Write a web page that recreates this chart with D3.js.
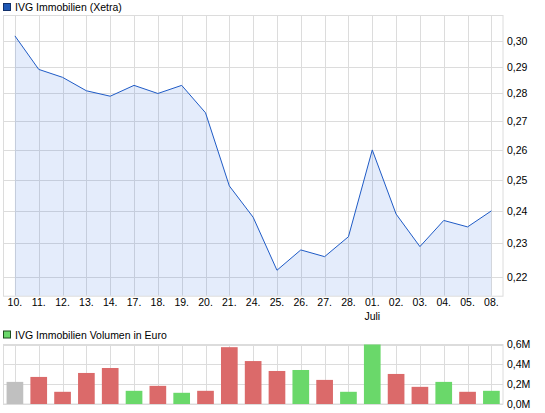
<!DOCTYPE html>
<html><head><meta charset="utf-8">
<script src="https://cdn.jsdelivr.net/npm/d3@7"></script>
<style>body{margin:0;background:#fff}svg{display:block}text{font-family:"Liberation Sans",Arial,sans-serif;fill:#000}</style>
</head><body>
<script>
const categories = ["10.","11.","12.","13.","14.","17.","18.","19.","20.","21.","24.","25.","26.","27.","28.","01.","02.","03.","04.","05.","08."];
const monthLabels = {"01.":"Juli"};
const prices = [0.302,0.289,0.286,0.281,0.279,0.283,0.280,0.283,0.273,0.248,0.238,0.222,0.228,0.226,0.232,0.260,0.239,0.229,0.237,0.235,0.240];
const volumes = [0.223,0.273,0.123,0.313,0.363,0.133,0.183,0.113,0.133,0.573,0.433,0.333,0.343,0.243,0.123,0.60,0.303,0.173,0.223,0.123,0.133].map(v=>v*1e6);
const priceTicks = [0.22,0.23,0.24,0.25,0.26,0.27,0.28,0.29,0.30];
const volTicks = [0,200000,400000,600000];
const priceTitle = "IVG Immobilien (Xetra)";
const volTitle = "IVG Immobilien Volumen in Euro";

const W=545,H=413;
const svg=d3.select("body").append("svg").attr("width",W).attr("height",H);
const grid="#dcdcdc";
const fs=10.5;

const x=d3.scaleBand().domain(categories).range([3,503.3]).padding(0);
const cx=d=>x(d)+x.bandwidth()/2;

// ---------- price panel
const pTop=15,pBot=295.7;
const y=d3.scaleLog().domain([0.2147,0.3104]).range([pBot,pTop]);
const gP=svg.append("g");
gP.append("rect").attr("x",3.5).attr("y",pTop+0.5).attr("width",499.5).attr("height",pBot-pTop).attr("fill","#fff").attr("stroke",grid);
gP.selectAll("line.v").data(categories).join("line").attr("x1",d=>Math.round(cx(d))+0.5).attr("x2",d=>Math.round(cx(d))+0.5).attr("y1",pTop).attr("y2",pBot).attr("stroke",grid);
gP.selectAll("line.h").data(priceTicks).join("line").attr("x1",3).attr("x2",503).attr("y1",d=>Math.round(y(d))+0.5).attr("y2",d=>Math.round(y(d))+0.5).attr("stroke",grid);
const pts=categories.map((c,i)=>[cx(c),prices[i]]);
gP.append("path").datum(pts).attr("d",d3.area().x(d=>d[0]).y0(pBot).y1(d=>y(d[1]))).attr("fill","#2f6ee0").attr("fill-opacity",0.13);
gP.append("path").datum(pts).attr("d",d3.line().x(d=>d[0]).y(d=>y(d[1]))).attr("fill","none").attr("stroke","#1f5bc6").attr("stroke-width",1);
const ay=d3.axisRight(y).tickValues(priceTicks).tickSize(0).tickPadding(0).tickFormat(d=>d3.format(".2f")(d).replace(".",","));
const gay=gP.append("g").attr("transform","translate(507,0)").call(ay);
gay.select(".domain").remove();
gay.selectAll("text").attr("font-size",fs).attr("font-family",null).attr("fill","#000");

// x labels
const ax=d3.axisBottom(x).tickSize(0).tickPadding(0);
const gax=svg.append("g").attr("transform","translate(0,299)").call(ax);
gax.select(".domain").remove();
gax.selectAll("text").attr("font-size",fs).attr("font-family",null).attr("fill","#000");
svg.selectAll("text.month").data(categories.filter(c=>monthLabels[c])).join("text").attr("class","month")
  .attr("x",d=>cx(d)).attr("y",320).attr("text-anchor","middle").attr("font-size",fs).text(d=>monthLabels[d]);

// legends
function legend(yy,color,border,label){
  svg.append("rect").attr("x",3.5).attr("y",yy+0.5).attr("width",7).attr("height",7).attr("fill",color).attr("stroke",border);
  svg.append("text").attr("x",15).attr("y",yy+8).attr("font-size",fs).text(label);
}
legend(3,"#1e58b5","#12306a",priceTitle);
legend(330.5,"#6ad86a","#1c4d1c",volTitle);

// ---------- volume panel
const vTop=344.5,vBot=404;
const yv=d3.scaleLinear().domain([0,600000]).range([vBot,vTop]);
const gV=svg.append("g");
gV.append("rect").attr("x",3.5).attr("y",vTop).attr("width",499.5).attr("height",vBot-vTop).attr("fill","#fff").attr("stroke",grid);
gV.selectAll("line.v").data(categories).join("line").attr("x1",d=>Math.round(cx(d))+0.5).attr("x2",d=>Math.round(cx(d))+0.5).attr("y1",vTop).attr("y2",vBot).attr("stroke",grid);
gV.selectAll("line.h").data(volTicks).join("line").attr("x1",3).attr("x2",503).attr("y1",d=>Math.round(yv(d))+0.5).attr("y2",d=>Math.round(yv(d))+0.5).attr("stroke",grid);
const bw=x.bandwidth()*0.7;
gV.selectAll("rect.bar").data(categories).join("rect").attr("class","bar")
  .attr("x",d=>cx(d)-bw/2).attr("width",bw)
  .attr("y",(d,i)=>yv(volumes[i])).attr("height",(d,i)=>vBot-yv(volumes[i]))
  .attr("fill",(d,i)=>i===0?"#c0c0c0":(prices[i]>=prices[i-1]?"#6ad86a":"#db6a6a"));
const av=d3.axisRight(yv).tickValues(volTicks).tickSize(0).tickPadding(0).tickFormat(d=>d3.format(".1f")(d/1e6).replace(".",",")+"M");
const gav=gV.append("g").attr("transform","translate(507,0)").call(av);
gav.select(".domain").remove();
gav.selectAll("text").attr("font-size",fs).attr("font-family",null).attr("fill","#000");
</script>
</body></html>
